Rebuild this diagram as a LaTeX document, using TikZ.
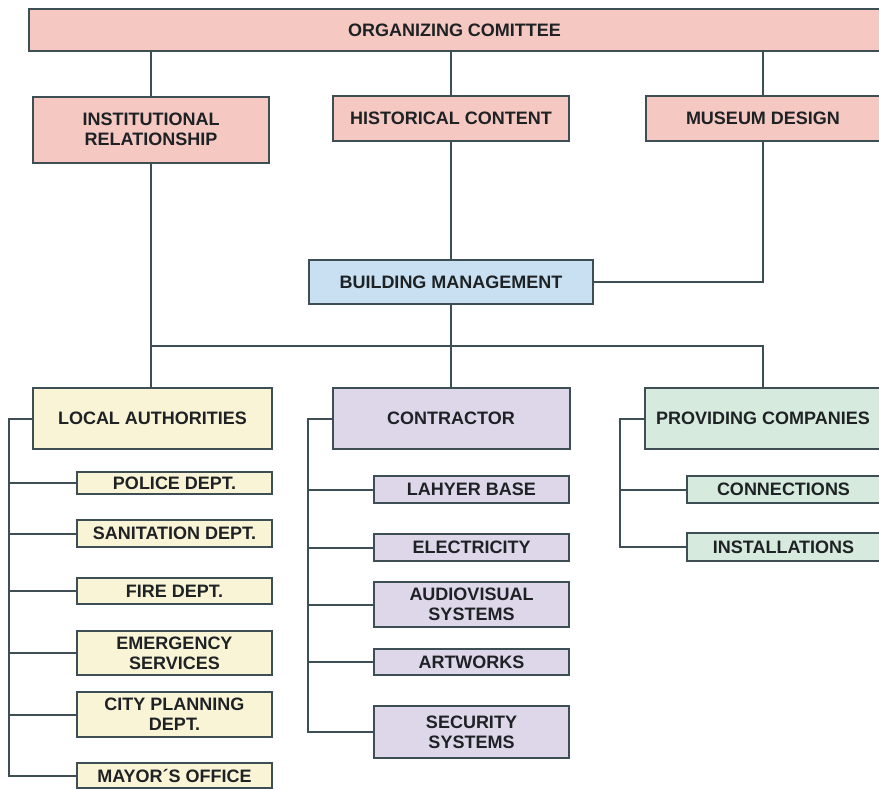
\documentclass[tikz,border=0pt]{standalone}
\usepackage{fontspec}
\setmainfont{Liberation Sans}
\begin{document}
\begin{tikzpicture}[x=1pt,y=-1pt,
  box/.style={draw=linec, line width=2pt, inner sep=0pt, align=center,
    text=textc, font=\fontsize{18}{20}\selectfont\bfseries},
  pinkbox/.style={box, fill=pinkc},
  bluebox/.style={box, fill=bluec},
  yellowbox/.style={box, fill=yellowc},
  lilacbox/.style={box, fill=lilacc},
  greenbox/.style={box, fill=greenc},
  link/.style={draw=linec, line width=2pt}]
\definecolor{linec}{HTML}{3E4E55}
\definecolor{textc}{HTML}{1E2224}
\definecolor{pinkc}{HTML}{F5C8C2}
\definecolor{bluec}{HTML}{C8E0F1}
\definecolor{yellowc}{HTML}{FAF4D7}
\definecolor{lilacc}{HTML}{DED7EA}
\definecolor{greenc}{HTML}{D6EBDE}
\useasboundingbox[fill=white] (0,0) rectangle (879,790);

% top level
\node[pinkbox, minimum width=851, minimum height=42] (oc) at (454.5,30) {ORGANIZING COMITTEE};
\node[pinkbox, minimum width=236, minimum height=66] (inst) at (151,129.5) {INSTITUTIONAL\\RELATIONSHIP};
\node[pinkbox, minimum width=236, minimum height=45] (hist) at (451,118.5) {HISTORICAL CONTENT};
\node[pinkbox, minimum width=234, minimum height=45] (mus) at (763,118.5) {MUSEUM DESIGN};
\node[bluebox, minimum width=284, minimum height=44] (bm) at (451,282) {BUILDING MANAGEMENT};

% second level
\node[yellowbox, minimum width=239, minimum height=61] (la) at (152.5,418.5) {LOCAL AUTHORITIES};
\node[lilacbox, minimum width=237, minimum height=61] (con) at (451,418.5) {CONTRACTOR};
\node[greenbox, minimum width=236, minimum height=61] (pc) at (763,418.5) {PROVIDING COMPANIES};

% local authorities
\node[yellowbox, minimum width=195, minimum height=22] (police) at (174.5,483) {POLICE DEPT.};
\node[yellowbox, minimum width=195, minimum height=27] (sanit) at (174.5,533.5) {SANITATION DEPT.};
\node[yellowbox, minimum width=195, minimum height=26] (fire) at (174.5,591) {FIRE DEPT.};
\node[yellowbox, minimum width=195, minimum height=44] (emerg) at (174.5,653) {EMERGENCY\\SERVICES};
\node[yellowbox, minimum width=195, minimum height=45] (city) at (174.5,714.5) {CITY PLANNING\\DEPT.};
\node[yellowbox, minimum width=195, minimum height=25] (mayor) at (174.5,775.5) {MAYOR´S OFFICE};

% contractor
\node[lilacbox, minimum width=195, minimum height=27] (lahyer) at (471.5,489.5) {LAHYER BASE};
\node[lilacbox, minimum width=195, minimum height=27] (elec) at (471.5,547.5) {ELECTRICITY};
\node[lilacbox, minimum width=195, minimum height=45] (av) at (471.5,604.5) {AUDIOVISUAL\\SYSTEMS};
\node[lilacbox, minimum width=195, minimum height=26] (art) at (471.5,662) {ARTWORKS};
\node[lilacbox, minimum width=195, minimum height=52] (sec) at (471.5,732) {SECURITY\\SYSTEMS};

% providing companies
\node[greenbox, minimum width=193, minimum height=27] (connx) at (783.5,489.5) {CONNECTIONS};
\node[greenbox, minimum width=193, minimum height=28] (inst2) at (783.5,547) {INSTALLATIONS};

% spine and bus positions
\coordinate (bus) at (0,346);
\coordinate (spineA) at (9,0);
\coordinate (spineB) at (308,0);
\coordinate (spineC) at (620,0);

% upper connectors
\draw[link] (inst.north |- oc.south) -- (inst.north);
\draw[link] (hist.north |- oc.south) -- (hist.north);
\draw[link] (mus.north |- oc.south) -- (mus.north);
\draw[link] (hist.south) -- (bm.north);
\draw[link] (mus.south) |- (bm.east);
\draw[link] (inst.south) -- (la.north -| inst.south);
\draw[link] (bm.south) -- (con.north);
\draw[link] (inst.south |- bus) -| (pc.north);

% local authorities tree
\draw[link] (la.west) -| (spineA |- la.west) |- (mayor.west);
\foreach \n in {police,sanit,fire,emerg,city}
  \draw[link] (\n.west) -- (spineA |- \n.west);

% contractor tree
\draw[link] (con.west) -| (spineB |- con.west) |- (sec.west);
\foreach \n in {lahyer,elec,av,art}
  \draw[link] (\n.west) -- (spineB |- \n.west);

% providing companies tree
\draw[link] (pc.west) -| (spineC |- pc.west) |- (inst2.west);
\draw[link] (connx.west) -- (spineC |- connx.west);
\end{tikzpicture}
\end{document}
